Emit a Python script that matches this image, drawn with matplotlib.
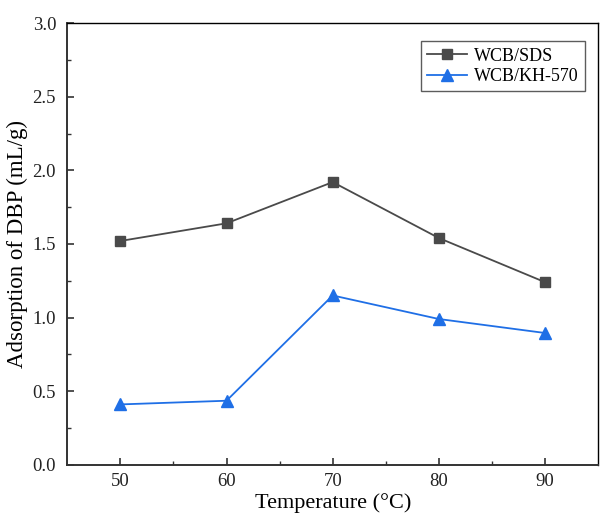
import matplotlib.pyplot as plt

temperature = [50, 60, 70, 80, 90]
sds = [1.52, 1.64, 1.92, 1.54, 1.24]
kh570 = [0.41, 0.435, 1.15, 0.99, 0.895]

plt.rcParams['font.family'] = ['Liberation Serif', 'DejaVu Serif']

fig = plt.figure(figsize=(6, 5.13), dpi=100)
ax = fig.add_axes([0.112, 0.094, 0.885, 0.861])

ax.plot(temperature, sds, color='#4a4a4a', marker='s', markersize=7, linewidth=1.3, label='WCB/SDS')
ax.plot(temperature, kh570, color='#1f6fe6', marker='^', markersize=8.5, linewidth=1.3, label='WCB/KH-570')

ax.set_xlim(45, 95)
ax.set_ylim(0, 3.0)
ax.set_xticks([50, 60, 70, 80, 90])
ax.set_xticks([55, 65, 75, 85], minor=True)
ax.set_yticks([0.0, 0.5, 1.0, 1.5, 2.0, 2.5, 3.0])
ax.set_yticks([0.25, 0.75, 1.25, 1.75, 2.25, 2.75], minor=True)
ax.yaxis.set_major_formatter(plt.FormatStrFormatter('%.1f'))
ax.tick_params(which='major', direction='in', length=5, width=1.2, labelsize=13.5,
               pad=6, colors='#333333', labelcolor='#222222')
ax.tick_params(axis='y', which='major', pad=8)
ax.tick_params(which='minor', direction='in', length=3, width=1.0, colors='#333333')
ax.tick_params(axis='y', which='both', right=False)
ax.tick_params(axis='x', which='both', top=False)

ax.spines['left'].set_linewidth(1.4)
ax.spines['bottom'].set_linewidth(1.4)
ax.spines['left'].set_color('#333333')
ax.spines['bottom'].set_color('#333333')
ax.spines['top'].set_linewidth(1.0)
ax.spines['right'].set_linewidth(1.0)

ax.set_xlabel('Temperature (°C)', fontsize=16, labelpad=2)
ax.set_ylabel('Adsorption of DBP (mL/g)', fontsize=16.5, labelpad=3)

ax.legend(loc='upper right', fontsize=13, frameon=True, fancybox=False, edgecolor='#333333',
          handlelength=2.2, handletextpad=0.4, borderpad=0.35, labelspacing=0.2,
          borderaxespad=0, bbox_to_anchor=(0.975, 0.959))

fig.savefig('out.png', dpi=100)
